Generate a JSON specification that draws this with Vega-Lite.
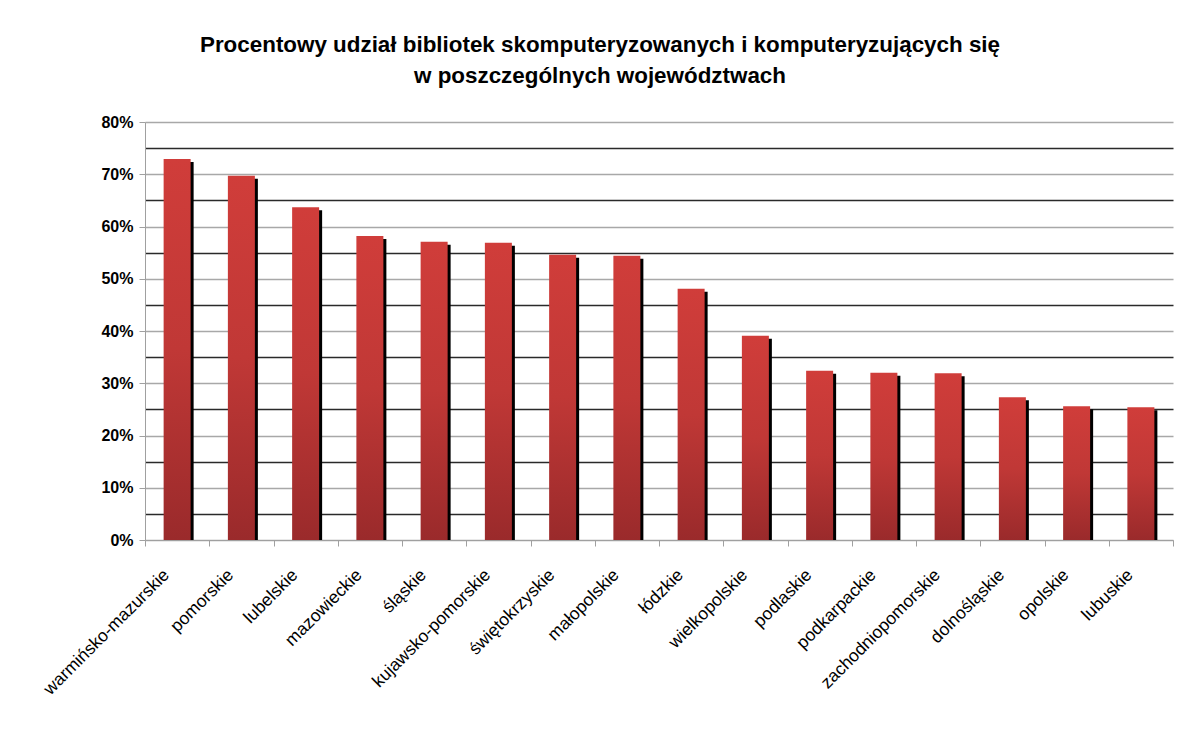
{
  "$schema": "https://vega.github.io/schema/vega-lite/v6.json",
  "width": 1028,
  "height": 418,
  "autosize": {"type": "none"},
  "padding": {"left": 145, "top": 122, "right": 21, "bottom": 189},
  "background": "white",
  "title": {
    "text": ["Procentowy udział bibliotek skomputeryzowanych i komputeryzujących się", "w poszczególnych województwach"],
    "font": "Liberation Sans",
    "fontSize": 22.4,
    "fontWeight": "bold",
    "color": "black",
    "anchor": "middle",
    "dx": -59,
    "offset": 27,
    "lineHeight": 31
  },
  "data": {
    "values": [
      {"woj": "warmińsko-mazurskie", "v": 0.729},
      {"woj": "pomorskie", "v": 0.697},
      {"woj": "lubelskie", "v": 0.637},
      {"woj": "mazowieckie", "v": 0.582},
      {"woj": "śląskie", "v": 0.571},
      {"woj": "kujawsko-pomorskie", "v": 0.569},
      {"woj": "świętokrzyskie", "v": 0.546},
      {"woj": "małopolskie", "v": 0.544},
      {"woj": "łódzkie", "v": 0.481},
      {"woj": "wielkopolskie", "v": 0.391},
      {"woj": "podlaskie", "v": 0.324},
      {"woj": "podkarpackie", "v": 0.320},
      {"woj": "zachodniopomorskie", "v": 0.319},
      {"woj": "dolnośląskie", "v": 0.273},
      {"woj": "opolskie", "v": 0.256},
      {"woj": "lubuskie", "v": 0.254}
    ]
  },
  "encoding": {
    "x": {
      "field": "woj",
      "type": "nominal",
      "sort": null,
      "scale": {"paddingInner": 0, "paddingOuter": 0},
      "axis": {
        "title": null,
        "tickBand": "extent",
        "domainColor": "#a0a0a0",
        "tickColor": "#a0a0a0",
        "tickSize": 6,
        "labelAngle": -45,
        "labelAlign": "right",
        "labelBaseline": "middle",
        "labelFont": "Liberation Sans",
        "labelFontSize": 17.5,
        "labelColor": "black",
        "labelPadding": 26,
        "labelOffset": -11,
        "labelOverlap": false,
        "grid": false
      }
    }
  },
  "layer": [
    {
      "mark": {"type": "bar", "color": "black", "size": 27, "xOffset": 3, "yOffset": 3, "y2Offset": 0},
      "encoding": {
        "y": {
          "field": "v",
          "type": "quantitative",
          "scale": {"domain": [0, 0.8]},
          "axis": {
            "orient": "right",
            "title": null,
            "values": [0.05, 0.15, 0.25, 0.35, 0.45, 0.55, 0.65, 0.75],
            "labels": false,
            "ticks": false,
            "domain": false,
            "grid": true,
            "gridColor": "#2a2a2a",
            "gridWidth": 1.3
          }
        },
        "y2": {"datum": 0}
      }
    },
    {
      "mark": {
        "type": "bar",
        "size": 27,
        "color": {
          "gradient": "linear",
          "x1": 0, "y1": 0, "x2": 0, "y2": 1,
          "stops": [
            {"offset": 0, "color": "#d03d3a"},
            {"offset": 0.5, "color": "#c03836"},
            {"offset": 1, "color": "#9a2a2b"}
          ]
        }
      },
      "encoding": {
        "y": {
          "field": "v",
          "type": "quantitative",
          "axis": {
            "title": null,
            "values": [0, 0.1, 0.2, 0.3, 0.4, 0.5, 0.6, 0.7, 0.8],
            "format": ".0%",
            "grid": true,
            "gridColor": "#a8a8a8",
            "gridWidth": 1.5,
            "domainColor": "#a0a0a0",
            "tickColor": "#a0a0a0",
            "tickSize": 6,
            "labelPadding": 6,
            "labelFont": "Liberation Sans",
            "labelFontSize": 16,
            "labelFontWeight": "bold",
            "labelColor": "black"
          }
        },
        "y2": {"datum": 0}
      }
    }
  ],
  "resolve": {"axis": {"y": "independent"}},
  "config": {"view": {"stroke": null}}
}
